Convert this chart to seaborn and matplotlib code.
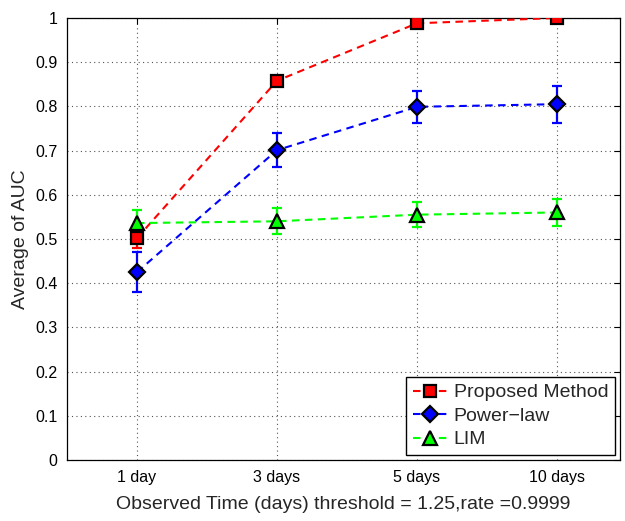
import matplotlib
matplotlib.use("Agg")
import matplotlib.pyplot as plt
import seaborn as sns
import pandas as pd

categories = ["1 day", "3 days", "5 days", "10 days"]
proposed = [0.502, 0.858, 0.988, 1.0]
proposed_err = [0.023, 0.004, 0.003, 0.0]
power_law = [0.425, 0.701, 0.799, 0.805]
power_law_err = [0.046, 0.038, 0.036, 0.042]
lim = [0.536, 0.540, 0.555, 0.560]
lim_err = [0.029, 0.029, 0.029, 0.030]
y_ticks = [0, 0.1, 0.2, 0.3, 0.4, 0.5, 0.6, 0.7, 0.8, 0.9, 1]

sns.set_style("white")
plt.rcParams["font.family"] = ["Liberation Sans", "DejaVu Sans"]

positions = list(range(1, len(categories) + 1))
series = [
    ("Proposed Method", proposed, proposed_err, "#ff0000", "s", 8.5),
    ("Power\u2212law", power_law, power_law_err, "#0000ff", "D", 8.5),
    ("LIM", lim, lim_err, "#00ff00", "^", 10.5),
]

fig = plt.figure(figsize=(6.25, 5.21), dpi=100)
ax = fig.add_axes([0.1072, 0.1171, 0.8848, 0.8484])

for name, vals, errs, color, marker, ms in series:
    df = pd.DataFrame({"x": positions, "y": vals})
    ax.errorbar(positions, vals, yerr=errs, fmt="none", ecolor=color,
                elinewidth=1.6, capsize=3.5, capthick=1.6, zorder=3)
    sns.lineplot(data=df, x="x", y="y", ax=ax, color=color,
                 dashes=False, linewidth=1.5, marker=marker, markersize=ms,
                 markerfacecolor=color, markeredgecolor="black",
                 markeredgewidth=1.6, label=name, zorder=4)
    ax.lines[-1].set_dashes([3.6, 2.6])

ax.set_xlim(0.5, 4.45)
ax.set_ylim(0, 1)
ax.set_xticks(positions)
ax.set_xticklabels(categories)
ax.set_yticks(y_ticks)
ax.set_yticklabels([f"{t:g}" for t in y_ticks])
ax.grid(True, linestyle=(0, (1, 3)), color="#555555", linewidth=0.8)
ax.tick_params(direction="in", length=4, width=0.8, top=True, right=True,
               labelsize=11.5, colors="black", pad=7)
for sp in ax.spines.values():
    sp.set_color("black")
    sp.set_linewidth(0.9)
ax.set_xlabel("Observed Time (days) threshold = 1.25,rate =0.9999", fontsize=14,
              labelpad=8)
ax.set_ylabel("Average of AUC", fontsize=14, labelpad=4)

leg = ax.legend(loc="lower right", fontsize=14, frameon=True, fancybox=False,
                edgecolor="black", framealpha=1, borderpad=0.35,
                handlelength=1.8, handletextpad=0.3, labelspacing=0.3,
                borderaxespad=0.25)
leg.get_frame().set_linewidth(1.0)
for h in leg.get_lines():
    h.set_dashes([3.6, 2.6])

fig.savefig("out.png", dpi=100)
